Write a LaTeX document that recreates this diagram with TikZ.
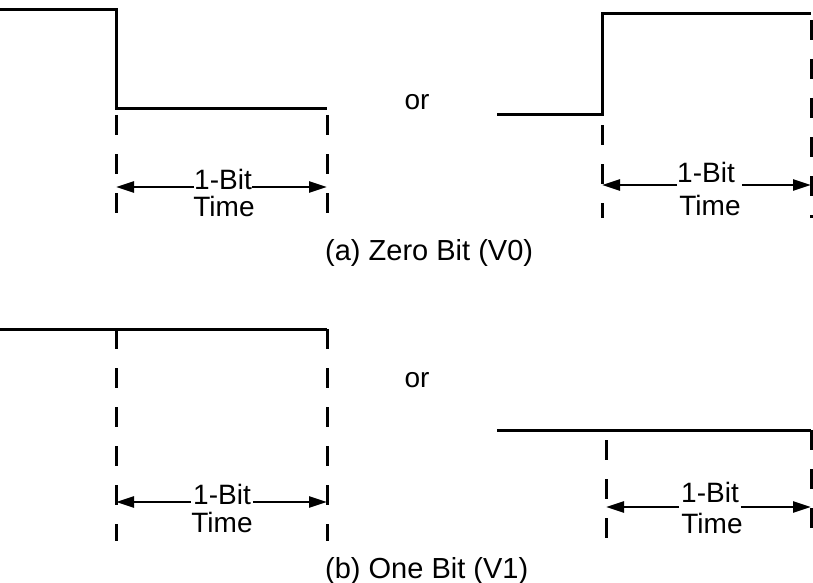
\documentclass[tikz,border=0pt]{standalone}
\usepackage{fontspec}
\setmainfont{Liberation Sans}
\usetikzlibrary{arrows.meta}
\begin{document}
\begin{tikzpicture}[x=1pt,y=-1pt,
  wave/.style={line width=3pt,line join=miter},
  dsh/.style={line width=3pt,dash pattern=on 20pt off 19pt},
  dim/.style={line width=2.6pt,-{Triangle[length=18pt,width=11pt]}},
  txt/.style={font=\fontsize{28}{30}\selectfont,inner sep=0pt,anchor=base},
  captxt/.style={font=\fontsize{29}{31}\selectfont,inner sep=0pt,anchor=base west}]
\useasboundingbox (0,0) rectangle (813,583);
% ---- (a) left
\coordinate (a1) at (0,10);
\coordinate (a2) at (116,10);
\coordinate (a3) at (116,109);
\coordinate (a4) at (327,109);
\draw[wave] (a1) -- (a2) -- (a3) -- (a4);
\coordinate (a5) at (116,115);
\coordinate (a6) at (116,218);
\coordinate (a7) at (327,115);
\coordinate (a8) at (327,218);
\draw[dsh] (a5) -- (a6);
\draw[dsh] (a7) -- (a8);
\node[txt] (ab1) at (223,189) {1-Bit};
\node[txt] (at1) at (224,216) {Time};
\coordinate (al) at (116,187);
\coordinate (ar) at (327,187);
\draw[dim] (ab1.base west |- al) -- (al);
\draw[dim] (ab1.base east |- ar) -- (ar);
\node[txt] (or1) at (417,110) {or};
% ---- (a) right
\coordinate (b1) at (497,115);
\coordinate (b2) at (602,115);
\coordinate (b3) at (602,14);
\coordinate (b4) at (811,14);
\draw[wave] (b1) -- (b2) -- (b3) -- (b4);
\coordinate (b5) at (602,125);
\coordinate (b6) at (602,218);
\coordinate (b7) at (811,14);
\coordinate (b8) at (811,218);
\draw[dsh] (b5) -- (b6);
\draw[dsh,dash phase=-6pt] (b7) -- (b8);
\node[txt] (ab2) at (706,182) {1-Bit};
\node[txt] (at2) at (710,215) {Time};
\coordinate (bl) at (602,185);
\coordinate (br) at (811,185);
\draw[dim] (ab2.base west |- bl) -- (bl);
\draw[dim] (ab2.base east |- br) ++(7,0) -- (br);
\node[captxt] (capa) at (325,260) {(a) Zero Bit (V0)};
% ---- (b) left
\coordinate (c1) at (0,329);
\coordinate (c2) at (327,329);
\draw[wave] (c1) -- (c2);
\coordinate (c3) at (116,329);
\coordinate (c4) at (116,541);
\coordinate (c5) at (327,329);
\coordinate (c6) at (327,541);
\draw[dsh] (c3) -- (c4);
\draw[dsh] (c5) -- (c6);
\node[txt] (ab3) at (222,504) {1-Bit};
\node[txt] (at3) at (222,532) {Time};
\coordinate (cl) at (116,502);
\coordinate (cr) at (327,502);
\draw[dim] (ab3.base west |- cl) ++(-2,0) -- (cl);
\draw[dim] (ab3.base east |- cr) ++(2,0) -- (cr);
\node[txt] (or2) at (417,387) {or};
% ---- (b) right
\coordinate (d1) at (497,430);
\coordinate (d2) at (811,430);
\draw[wave] (d1) -- (d2);
\coordinate (d3) at (606,440);
\coordinate (d4) at (606,538);
\coordinate (d5) at (811,430);
\coordinate (d6) at (811,538);
\draw[dsh] (d3) -- (d4);
\draw[dsh] (d5) -- (d6);
\node[txt] (ab4) at (710,502) {1-Bit};
\node[txt] (at4) at (712,533) {Time};
\coordinate (dl) at (606,507);
\coordinate (dr) at (811,507);
\draw[dim] (ab4.base west |- dl) ++(-2,0) -- (dl);
\draw[dim] (ab4.base east |- dr) ++(2,0) -- (dr);
\node[captxt] (capb) at (325,578) {(b) One Bit (V1)};
\end{tikzpicture}
\end{document}
